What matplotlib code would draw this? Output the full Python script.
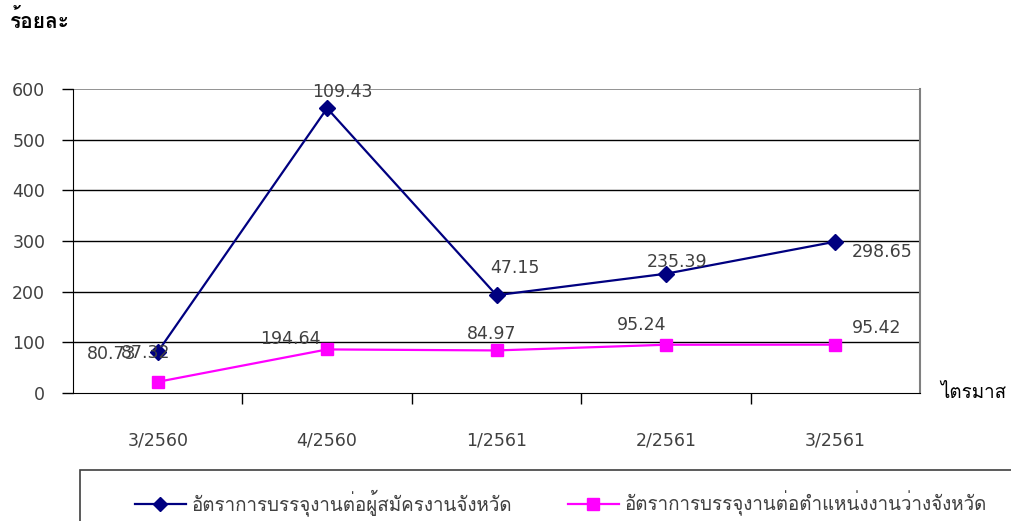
import matplotlib
matplotlib.use("Agg")
import matplotlib.pyplot as plt
from matplotlib import font_manager
from matplotlib.patches import Rectangle
from matplotlib.ticker import FixedLocator, NullFormatter

# ---------------- data ----------------
categories = ["3/2560", "4/2560", "1/2561", "2/2561", "3/2561"]
applicant_rate = [81, 562, 193, 235.39, 298.65]
vacancy_rate = [22, 86, 84, 95.24, 95.42]
applicant_labels = ["80.73", "109.43", "47.15", "235.39", "298.65"]
vacancy_labels = ["87.32", "194.64", "84.97", "95.24", "95.42"]
yticks = [0, 100, 200, 300, 400, 500, 600]
series_names = ["อัตราการบรรจุงานต่อผู้สมัครงานจังหวัด",
                "อัตราการบรรจุงานต่อตำแหน่งงานว่างจังหวัด"]
y_title = "ร้อยละ"
x_title = "ไตรมาส"

# label offsets (pixels) relative to each point
applicant_off = [(-46, -2), (15, 16), (18, 27), (11, 12), (47, -10)]
vacancy_off = [(-12, 29), (-37, 10), (-5, 16), (-24, 20), (41, 17)]


def find_thai_font():
    try:
        from fontTools.ttLib import TTFont
    except Exception:
        return None
    for f in font_manager.fontManager.ttflist:
        try:
            tt = TTFont(f.fname, fontNumber=0, lazy=True)
            cmap = tt.getBestCmap()
            if cmap and 0x0E2D in cmap and 0x0E23 in cmap and 0x0E31 in cmap:
                return f.name
        except Exception:
            pass
    return None


thai = find_thai_font()
fam = [thai, "DejaVu Sans"] if thai else ["DejaVu Sans"]
plt.rcParams["font.family"] = fam

W, H = 1011, 521
fig = plt.figure(figsize=(W / 100, H / 100), dpi=100)
fig.patch.set_facecolor("white")
ax = fig.add_axes([73 / W, 1 - 393 / H, (920 - 73) / W, (393 - 89) / H])

x = list(range(len(categories)))
ax.plot(x, applicant_rate, color="#000080", lw=1.6, marker="D", ms=8,
        label=series_names[0], zorder=4)
ax.plot(x, vacancy_rate, color="#FF00FF", lw=1.6, marker="s", ms=9,
        label=series_names[1], zorder=4)

for xi, yi, lab, off in zip(x, applicant_rate, applicant_labels, applicant_off):
    ax.annotate(lab, (xi, yi), xytext=off, textcoords="offset pixels",
                ha="center", va="center", fontsize=12.5, color="#404040",
                family="DejaVu Sans", zorder=5)
for xi, yi, lab, off in zip(x, vacancy_rate, vacancy_labels, vacancy_off):
    ax.annotate(lab, (xi, yi), xytext=off, textcoords="offset pixels",
                ha="center", va="center", fontsize=12.5, color="#404040",
                family="DejaVu Sans", zorder=5)

ax.set_xlim(-0.5, len(categories) - 0.5)
ax.set_ylim(0, 600)
ax.set_yticks(yticks)
ax.set_yticklabels([str(v) for v in yticks], family="DejaVu Sans",
                   fontsize=12.5, color="#404040")
ax.tick_params(axis="y", direction="out", length=8, width=1, pad=12,
               color="#000000")
ax.set_xticks(x)
ax.set_xticklabels(categories, family="DejaVu Sans", fontsize=12.5,
                   color="#404040")
ax.tick_params(axis="x", which="major", length=0, pad=28)
ax.xaxis.set_minor_locator(FixedLocator([i + 0.5 for i in x[:-1]]))
ax.xaxis.set_minor_formatter(NullFormatter())
ax.tick_params(axis="x", which="minor", direction="out", length=8, width=1,
               color="#000000")

for v in yticks[1:-1]:
    ax.axhline(v, color="#000000", lw=1.0, zorder=1)
ax.axhline(600, color="#808080", lw=1.2, zorder=1)
ax.spines["top"].set_visible(False)
ax.spines["right"].set_color("#808080")
ax.spines["right"].set_linewidth(1.5)
ax.spines["left"].set_color("#000000")
ax.spines["bottom"].set_color("#000000")

fig.text(10 / W, 1 - 20 / H, y_title, fontsize=15, fontweight="bold",
         ha="left", va="center", color="#000000")
fig.text(940 / W, 1 - 393 / H, x_title, fontsize=13.5, ha="left",
         va="center", color="#000000")

# legend frame
fig.add_artist(Rectangle((80 / W, -0.1), 1.0, (1 - 470 / H) + 0.1,
                         transform=fig.transFigure, fill=False,
                         edgecolor="#404040", lw=1.2))
handles, labels = ax.get_legend_handles_labels()
fig.legend(handles, labels, loc="center left",
           bbox_to_anchor=(135 / W, 1 - 503 / H), ncol=2, frameon=False,
           fontsize=13.5, handlelength=2.7, handletextpad=0.3,
           columnspacing=3.0, borderaxespad=0, borderpad=0,
           labelcolor="#404040", markerscale=0.9)

fig.savefig("out.png", dpi=100)
